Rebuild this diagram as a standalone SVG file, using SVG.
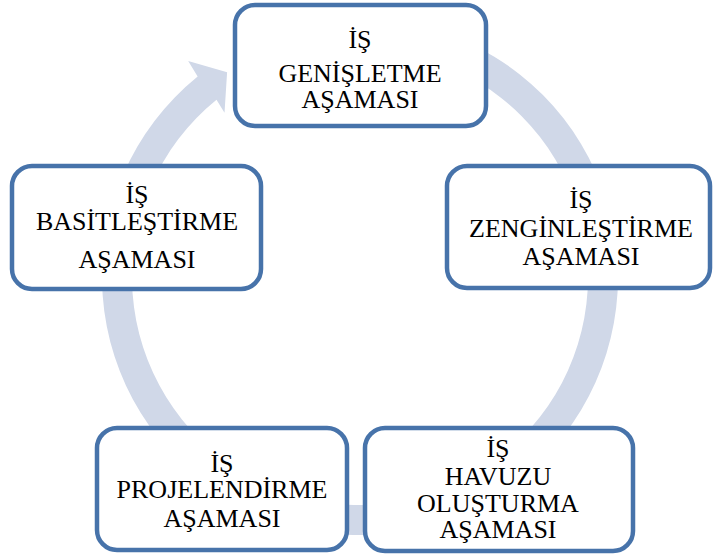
<svg xmlns="http://www.w3.org/2000/svg" width="714" height="555" viewBox="0 0 714 555">
<style>
.box{fill:#ffffff;stroke:#4773AA;stroke-width:4.5}
.t{font-family:'Liberation Serif','DejaVu Serif',serif;font-size:26px;fill:#000000;text-anchor:middle}
.ring{fill:#D0D8E8;stroke:none}
</style>
<rect width="714" height="555" fill="#ffffff"/>
<g id="connectors">
<path class="ring" d="M315.20,22.92 A258,258 0 1 1 197.64,76.50 L188.19,61.0 L227.11,72.36 L224.51,112.64 L216.51,99.81 A228,228 0 1 0 320.41,52.46 Z"/>
</g>
<g id="node-genisletme" font-family="Liberation Serif, serif">
<rect class="box" x="235" y="5" width="251" height="121" rx="20" ry="20"/>
<text class="t" x="360" y="48">İŞ</text>
<text class="t" x="360" y="82">GENİŞLETME</text>
<text class="t" x="360" y="108">AŞAMASI</text>
</g>
<g id="node-zenginlestirme" font-family="Liberation Serif, serif">
<rect class="box" x="447" y="166" width="263" height="122" rx="20" ry="20"/>
<text class="t" x="581" y="208">İŞ</text>
<text class="t" x="581" y="237">ZENGİNLEŞTİRME</text>
<text class="t" x="581" y="265">AŞAMASI</text>
</g>
<g id="node-havuzu" font-family="Liberation Serif, serif">
<rect class="box" x="365" y="428" width="268" height="123" rx="20" ry="20"/>
<text class="t" x="498" y="457">İŞ</text>
<text class="t" x="498" y="485">HAVUZU</text>
<text class="t" x="498" y="512">OLUŞTURMA</text>
<text class="t" x="498" y="538">AŞAMASI</text>
</g>
<g id="node-projelendirme" font-family="Liberation Serif, serif">
<rect class="box" x="97" y="428" width="250" height="122" rx="20" ry="20"/>
<text class="t" x="222" y="472">İŞ</text>
<text class="t" x="222" y="498">PROJELENDİRME</text>
<text class="t" x="222" y="527">AŞAMASI</text>
</g>
<g id="node-basitlestirme" font-family="Liberation Serif, serif">
<rect class="box" x="12" y="166" width="249" height="123" rx="20" ry="20"/>
<text class="t" x="137" y="203">İŞ</text>
<text class="t" x="137" y="230">BASİTLEŞTİRME</text>
<text class="t" x="137" y="268">AŞAMASI</text>
</g>
</svg>
